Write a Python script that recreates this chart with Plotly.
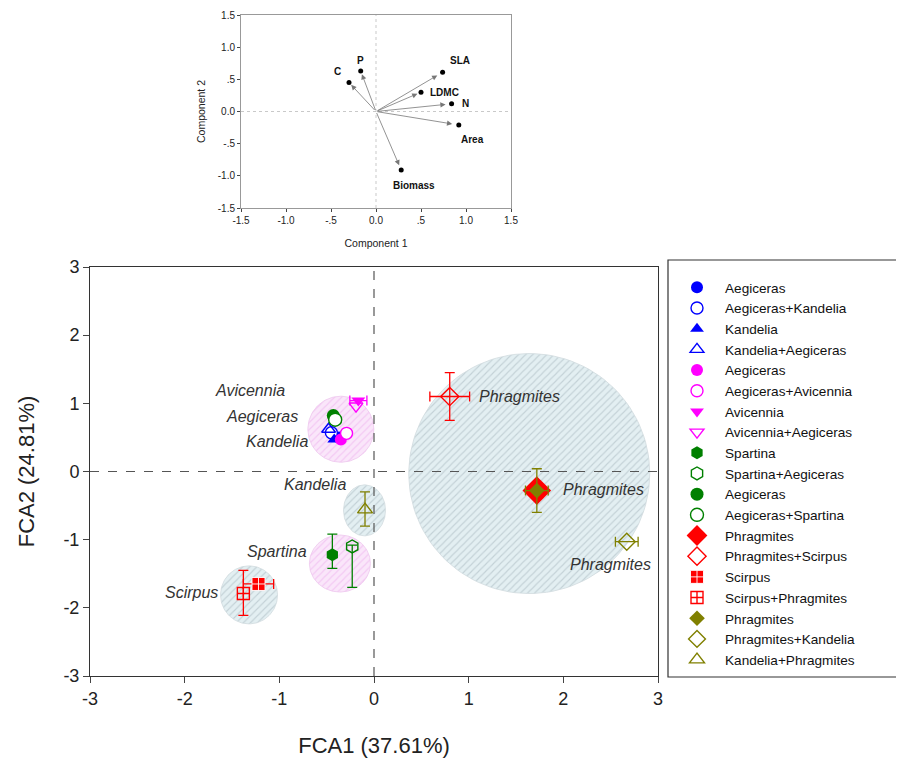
import numpy as np
import plotly.graph_objects as go

# ---------------- data ----------------
names = ["Aegiceras", "Aegiceras+Kandelia", "Kandelia", "Kandelia+Aegiceras",
         "Aegiceras", "Aegiceras+Avicennia", "Avicennia", "Avicennia+Aegiceras",
         "Spartina", "Spartina+Aegiceras", "Aegiceras", "Aegiceras+Spartina",
         "Phragmites", "Phragmites+Scirpus", "Scirpus", "Scirpus+Phragmites",
         "Phragmites", "Phragmites+Kandelia", "Kandelia+Phragmites"]
fca1 = [-0.37, -0.45, -0.42, -0.48, -0.35, -0.29, -0.165, -0.19, -0.44, -0.23,
        -0.43, -0.41, 1.72, 0.80, -1.22, -1.38, 1.72, 2.67, -0.095]
fca2 = [0.50, 0.57, 0.47, 0.62, 0.47, 0.56, 1.04, 0.96, -1.22, -1.10,
        0.82, 0.76, -0.28, 1.10, -1.65, -1.79, -0.28, -1.03, -0.56]
err_x = [0, 0, 0, 0, 0, 0, 0.09, 0, 0, 0, 0, 0, 0, 0.21, 0.16, 0, 0.12, 0.12, 0]
err_y_plus = [0, 0, 0, 0, 0, 0, 0, 0, 0.30, 0.02, 0, 0, 0, 0.35, 0, 0.34, 0.32, 0, 0.26]
err_y_minus = [0, 0, 0, 0, 0, 0, 0, 0, 0.20, 0.60, 0, 0, 0, 0.35, 0, 0.32, 0.32, 0, 0.24]

# group ellipses (centre in data units, radii in px)
grp_cx = [-0.35, -0.10, -0.36, -1.32, 1.64]
grp_cy = [0.62, -0.57, -1.35, -1.81, -0.03]
grp_rx = [33, 21, 30.5, 28.5, 120.5]
grp_ry = [33, 25.5, 28.5, 29, 120]
grp_kind = ["pink", "blue", "pink", "blue", "blue"]

lab_text = ["Avicennia", "Aegiceras", "Kandelia", "Kandelia", "Spartina", "Scirpus",
            "Phragmites", "Phragmites", "Phragmites"]
lab_x = [-0.92, -0.78, -0.68, -0.275, -0.69, -1.63, 1.09, 1.975, 2.05]
lab_y = [1.19, 0.81, 0.44, -0.19, -1.17, -1.78, 1.10, -0.26, -1.36]
lab_side = ["right", "right", "right", "right", "right", "right", "left", "left", "left"]

# inset loadings
trait = ["SLA", "LDMC", "N", "Area", "Biomass", "C", "P"]
comp1 = [0.74, 0.50, 0.84, 0.92, 0.28, -0.30, -0.17]
comp2 = [0.61, 0.30, 0.12, -0.21, -0.91, 0.45, 0.63]
inset_ticks = [-1.5, -1.0, -0.5, 0.0, 0.5, 1.0, 1.5]
inset_ticktext = ["-1.5", "-1.0", "-.5", "0.0", ".5", "1.0", "1.5"]
main_ticks = [-3, -2, -1, 0, 1, 2, 3]
main_ticktext = ["-3", "-2", "-1", "0", "1", "2", "3"]

# ---------------- styles ----------------
BLUE, MAG, GRN, RED, OLV = "#0000FF", "#FF00FF", "#008000", "#FF0000", "#808000"
styles = [
    (BLUE, "circle", 12), (BLUE, "circle-white", 12), (BLUE, "triangle-up", 12), (BLUE, "triangle-up-open", 12),
    (MAG, "circle", 12), (MAG, "circle-white", 12), (MAG, "triangle-down", 12), (MAG, "triangle-down-open", 12),
    (GRN, "hexagon", 13), (GRN, "hexagon-open", 13), (GRN, "circle", 13), (GRN, "circle-white", 13),
    (RED, "diamond", 22), (RED, "diamond-open", 14), (RED, "square-cross", 13), (RED, "square-cross-open", 12),
    (OLV, "diamond", 12), (OLV, "diamond-open", 13), (OLV, "triangle-up-open", 13),
]

FONT = "Liberation Sans, Arial, sans-serif"
W, H, OFF = 904, 760, 8  # page body margin offsets the figure by 8px


def fx(px):
    return (px - OFF) / W


def fy(py):
    return 1 - (py - OFF) / H


XD = [fx(90), fx(658)]
YD = [fy(676), fy(267)]
px_per_x = (658 - 90) / 6.0
px_per_y = (676 - 267) / 6.0

fig = go.Figure()

# hatched group ellipses
t = np.linspace(0, 2 * np.pi, 120)
for cx, cy, rx, ry, kind in zip(grp_cx, grp_cy, grp_rx, grp_ry, grp_kind):
    if kind == "pink":
        pat = dict(shape="/", bgcolor="#FAE6FA", fgcolor="#EBA9EB", size=5, solidity=0.22)
        lc = "#EDC6ED"
    else:
        pat = dict(shape="/", bgcolor="#E3EFF2", fgcolor="#A3B3BA", size=5, solidity=0.22)
        lc = "#D0DADE"
    fig.add_trace(go.Scatter(
        x=cx + rx / px_per_x * np.cos(t), y=cy + ry / px_per_y * np.sin(t),
        mode="lines", fill="toself", fillpattern=pat, line=dict(color=lc, width=0.8),
        showlegend=False, hoverinfo="skip", xaxis="x", yaxis="y"))

# points
for i, nm in enumerate(names):
    col, sym, sz = styles[i]
    if sym == "square-cross":
        marker = dict(color=col, symbol=sym, size=sz, line=dict(color="white", width=0.9))
    elif sym.endswith("-white"):
        marker = dict(color="white", symbol=sym.replace("-white", ""), size=sz,
                      line=dict(color=col, width=1.4))
    elif sym.endswith("-open"):
        marker = dict(color=col, symbol=sym, size=sz, line=dict(color=col, width=1.4))
    else:
        marker = dict(color=col, symbol=sym, size=sz, line=dict(width=0))
    tr = dict(x=[fca1[i]], y=[fca2[i]], mode="markers", name=nm, marker=marker,
              xaxis="x", yaxis="y")
    if err_x[i] > 0:
        tr["error_x"] = dict(type="data", array=[err_x[i]], color=col, thickness=1.3, width=5)
    if err_y_plus[i] > 0 or err_y_minus[i] > 0:
        tr["error_y"] = dict(type="data", symmetric=False, array=[err_y_plus[i]],
                             arrayminus=[err_y_minus[i]], color=col, thickness=1.3, width=5)
    fig.add_trace(go.Scatter(**tr))

# labels in main plot
for tx, lx, ly, side in zip(lab_text, lab_x, lab_y, lab_side):
    fig.add_annotation(x=lx, y=ly, xref="x", yref="y", text="<i>%s</i>" % tx, showarrow=False,
                       xanchor="right" if side == "right" else "left", yanchor="middle",
                       font=dict(family=FONT, size=16, color="#333333"))

# zero dashed lines (main)
fig.add_shape(type="line", xref="x", yref="y", x0=main_ticks[0], x1=main_ticks[-1], y0=0, y1=0,
              line=dict(color="#555555", width=1.2, dash="dash"))
fig.add_shape(type="line", xref="x", yref="y", x0=0, x1=0, y0=main_ticks[0], y1=main_ticks[-1],
              line=dict(color="#555555", width=1.2, dash="dash"))

# legend frame
fig.add_shape(type="rect", xref="paper", yref="paper", x0=fx(668), x1=fx(897),
              y0=fy(677), y1=fy(260), line=dict(color="#333333", width=1.2),
              layer="below")

# ---------------- inset ----------------
fig.add_trace(go.Scatter(x=comp1, y=comp2, mode="markers", marker=dict(color="black", size=5),
                         showlegend=False, xaxis="x2", yaxis="y2", hoverinfo="skip"))
fig.add_shape(type="line", xref="x2", yref="y2", x0=-1.5, x1=1.5, y0=0, y1=0,
              line=dict(color="#BBBBBB", width=0.8, dash="dot"))
fig.add_shape(type="line", xref="x2", yref="y2", x0=0, x1=0, y0=-1.5, y1=1.5,
              line=dict(color="#BBBBBB", width=0.8, dash="dot"))
for c1, c2 in zip(comp1, comp2):
    fig.add_annotation(x=c1 * 0.92, y=c2 * 0.92, ax=0, ay=0, xref="x2", yref="y2",
                       axref="x2", ayref="y2", text="", showarrow=True, arrowhead=2,
                       arrowsize=1.3, arrowwidth=0.8, arrowcolor="#777777")
lab_off = {"SLA": (5, 4, "left", "bottom"), "LDMC": (7, 0, "left", "middle"),
           "N": (8, 0, "left", "middle"), "Area": (0, -7, "left", "top"),
           "Biomass": (-10, -8, "left", "top"), "C": (-6, 4, "right", "bottom"),
           "P": (0, 3, "center", "bottom")}
for tr_, c1, c2 in zip(trait, comp1, comp2):
    dx, dy, xa, ya = lab_off[tr_]
    fig.add_annotation(x=c1, y=c2, xref="x2", yref="y2", text="<b>%s</b>" % tr_, showarrow=False,
                       xshift=dx, yshift=dy, xanchor=xa, yanchor=ya,
                       font=dict(family=FONT, size=10, color="#111111"))

fig.update_layout(
    width=W, height=H, margin=dict(l=0, r=0, t=0, b=0, autoexpand=False),
    paper_bgcolor="white", plot_bgcolor="white",
    font=dict(family=FONT, color="#222222"),
    xaxis=dict(domain=XD, range=[-3, 3], tickvals=main_ticks, ticktext=main_ticktext,
               ticks="outside", ticklen=6, automargin=False,
               showgrid=False, zeroline=False, showline=True, mirror=True, linecolor="#333333",
               linewidth=1, tickfont=dict(size=18), anchor="y",
               title=dict(text="FCA1 (37.61%)", font=dict(size=22), standoff=30)),
    yaxis=dict(domain=YD, range=[-3, 3], tickvals=main_ticks, ticktext=main_ticktext,
               ticks="outside", ticklen=6, automargin=False,
               showgrid=False, zeroline=False, showline=True, mirror=True, linecolor="#333333",
               linewidth=1, tickfont=dict(size=18), anchor="x",
               title=dict(text="FCA2 (24.81%)", font=dict(size=22), standoff=22)),
    xaxis2=dict(domain=[fx(241), fx(511)], range=[-1.5, 1.5], tickvals=inset_ticks,
                ticktext=inset_ticktext, ticks="outside", ticklen=3, showgrid=False, zeroline=False,
                showline=True, mirror=True, linecolor="#999999", linewidth=1, automargin=False,
                tickfont=dict(size=10), anchor="y2",
                title=dict(text="Component 1", font=dict(size=10.5), standoff=14)),
    yaxis2=dict(domain=[fy(208), fy(15)], range=[-1.5, 1.5], tickvals=inset_ticks,
                ticktext=inset_ticktext, ticks="outside", ticklen=3, showgrid=False, zeroline=False,
                showline=True, mirror=True, linecolor="#999999", linewidth=1, automargin=False,
                tickfont=dict(size=10), anchor="x2",
                title=dict(text="Component 2", font=dict(size=10.5), standoff=10)),
    legend=dict(x=fx(669), y=fy(272), xanchor="left", yanchor="top",
                borderwidth=0, bgcolor="rgba(0,0,0,0)",
                font=dict(family=FONT, size=13.6, color="#111111"), tracegroupgap=0,
                itemwidth=46),
    showlegend=True,
)

fig.write_html("out.html")
